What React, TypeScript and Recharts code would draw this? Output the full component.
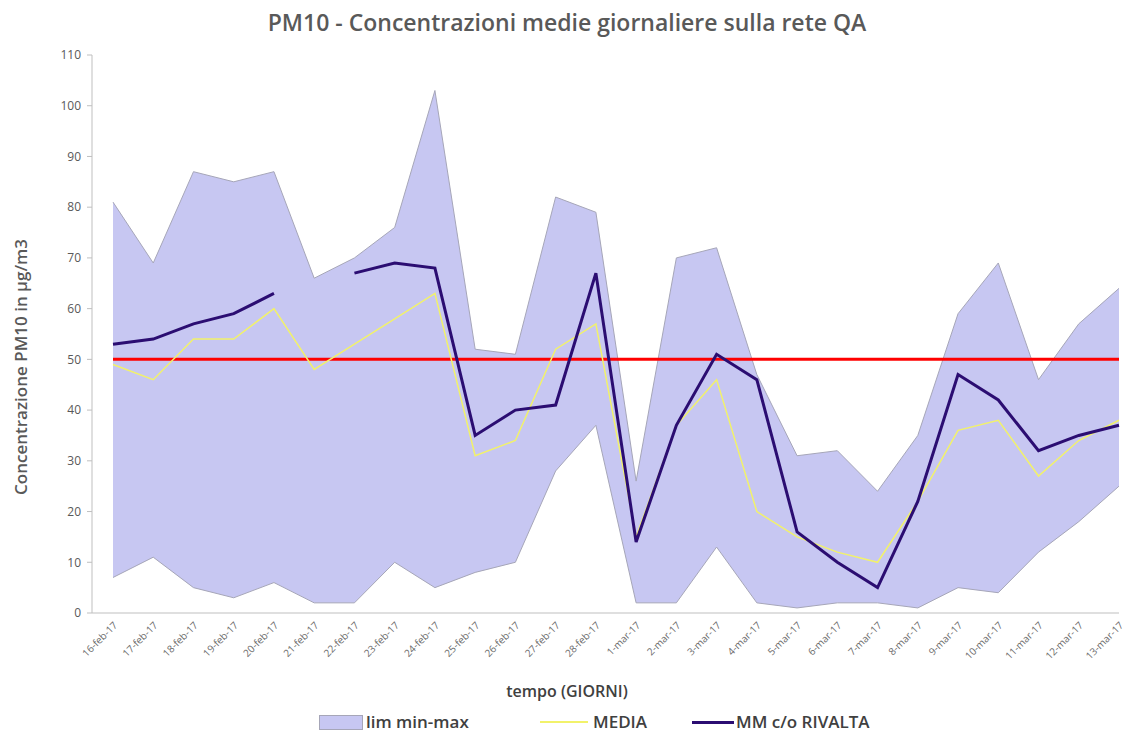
import React from 'react';
import {
  ComposedChart,
  Area,
  Line,
  XAxis,
  YAxis,
  ReferenceLine,
} from 'recharts';

// Daily PM10 values, 16 Feb - 13 Mar 2017
const categories = [
  '16-feb-17', '17-feb-17', '18-feb-17', '19-feb-17', '20-feb-17', '21-feb-17', '22-feb-17',
  '23-feb-17', '24-feb-17', '25-feb-17', '26-feb-17', '27-feb-17', '28-feb-17',
  '1-mar-17', '2-mar-17', '3-mar-17', '4-mar-17', '5-mar-17', '6-mar-17', '7-mar-17',
  '8-mar-17', '9-mar-17', '10-mar-17', '11-mar-17', '12-mar-17', '13-mar-17',
];

const minValues = [7, 11, 5, 3, 6, 2, 2, 10, 5, 8, 10, 28, 37, 2, 2, 13, 2, 1, 2, 2, 1, 5, 4, 12, 18, 25];
const maxValues = [81, 69, 87, 85, 87, 66, 70, 76, 103, 52, 51, 82, 79, 26, 70, 72, 47, 31, 32, 24, 35, 59, 69, 46, 57, 64];
const mediaValues = [49, 46, 54, 54, 60, 48, 53, 58, 63, 31, 34, 52, 57, 15, 37, 46, 20, 15, 12, 10, 22, 36, 38, 27, 34, 38];
const rivaltaValues = [53, 54, 57, 59, 63, null, 67, 69, 68, 35, 40, 41, 67, 14, 37, 51, 46, 16, 10, 5, 22, 47, 42, 32, 35, 37];

const yTicks = [0, 10, 20, 30, 40, 50, 60, 70, 80, 90, 100, 110];
const limitValue = 50;

const data = categories.map((day, i) => ({
  day,
  range: [minValues[i], maxValues[i]],
  media: mediaValues[i],
  rivalta: rivaltaValues[i],
}));

const FONT = '"Open Sans", "Liberation Sans", sans-serif';
const GREY = '#595959';
const BAND_FILL = '#c7c7f2';
const DARK = '#2b0d72';
const YELLOW = '#f2f26a';

const legendText: React.CSSProperties = {
  position: 'absolute',
  top: 0,
  fontSize: 17,
  fontWeight: 600,
  color: '#404040',
  whiteSpace: 'nowrap',
  lineHeight: '24px',
};

const App: React.FC = () => {
  return (
    <div
      style={{
        position: 'absolute',
        left: 0,
        top: 0,
        width: 1134,
        height: 745,
        background: '#fff',
        fontFamily: FONT,
      }}
    >
      <div
        style={{
          position: 'absolute',
          top: 6,
          left: 0,
          width: 1134,
          textAlign: 'center',
          fontSize: 23,
          fontWeight: 600,
          color: GREY,
        }}
      >
        PM10 - Concentrazioni medie giornaliere sulla rete QA
      </div>

      {/* y axis title */}
      <div
        style={{
          position: 'absolute',
          left: 21 - 160,
          top: 367 - 12,
          width: 320,
          height: 24,
          lineHeight: '24px',
          textAlign: 'center',
          transform: 'rotate(-90deg)',
          fontSize: 17,
          fontWeight: 600,
          color: GREY,
          whiteSpace: 'nowrap',
        }}
      >
        Concentrazione PM10 in µg/m3
      </div>

      <ComposedChart
        width={1134}
        height={745}
        data={data}
        margin={{ top: 55, right: 15, left: 32, bottom: 72 }}
      >
        <XAxis
          dataKey="day"
          interval={0}
          padding={{ left: 21, right: 0 }}
          height={60}
          tickLine={false}
          axisLine={{ stroke: '#bfbfbf' }}
          angle={-45}
          textAnchor="end"
          tick={{ fontSize: 10, fill: '#6b6b6b', fontFamily: FONT }}
        />
        <YAxis
          domain={[0, 110]}
          ticks={yTicks}
          interval={0}
          width={60}
          tickSize={5}
          tickMargin={6}
          tickLine={{ stroke: '#bfbfbf' }}
          axisLine={{ stroke: '#bfbfbf' }}
          tick={{ fontSize: 12, fill: GREY, fontFamily: FONT }}
        />
        <Area
          dataKey="range"
          name="lim min-max"
          type="linear"
          fill={BAND_FILL}
          fillOpacity={1}
          stroke="#a6a6b8"
          strokeWidth={1}
          isAnimationActive={false}
        />
        <ReferenceLine
          segment={[
            { x: categories[0], y: limitValue },
            { x: categories[categories.length - 1], y: limitValue },
          ]}
          stroke="#ff0000"
          strokeWidth={3}
        />
        <Line
          dataKey="media"
          name="MEDIA"
          type="linear"
          stroke={YELLOW}
          strokeWidth={1.5}
          dot={false}
          isAnimationActive={false}
        />
        <Line
          dataKey="rivalta"
          name="MM c/o RIVALTA"
          type="linear"
          stroke={DARK}
          strokeWidth={3}
          dot={false}
          connectNulls={false}
          isAnimationActive={false}
        />
      </ComposedChart>

      <div
        style={{
          position: 'absolute',
          top: 680,
          left: 0,
          width: 1134,
          textAlign: 'center',
          fontSize: 16,
          fontWeight: 600,
          color: '#404040',
        }}
      >
        tempo (GIORNI)
      </div>

      {/* legend */}
      <div style={{ position: 'absolute', top: 710, left: 0, width: 1134, height: 24 }}>
        <div style={{ position: 'absolute', left: 319, top: 5, width: 42, height: 13, background: BAND_FILL, border: '1px solid #a6a6b8' }} />
        <span style={{ ...legendText, left: 366 }}>lim min-max</span>
        <div style={{ position: 'absolute', left: 540, top: 11, width: 48, height: 2, background: YELLOW }} />
        <span style={{ ...legendText, left: 593 }}>MEDIA</span>
        <div style={{ position: 'absolute', left: 692, top: 11, width: 42, height: 3, background: DARK }} />
        <span style={{ ...legendText, left: 736 }}>MM c/o RIVALTA</span>
      </div>
    </div>
  );
};

export default App;
